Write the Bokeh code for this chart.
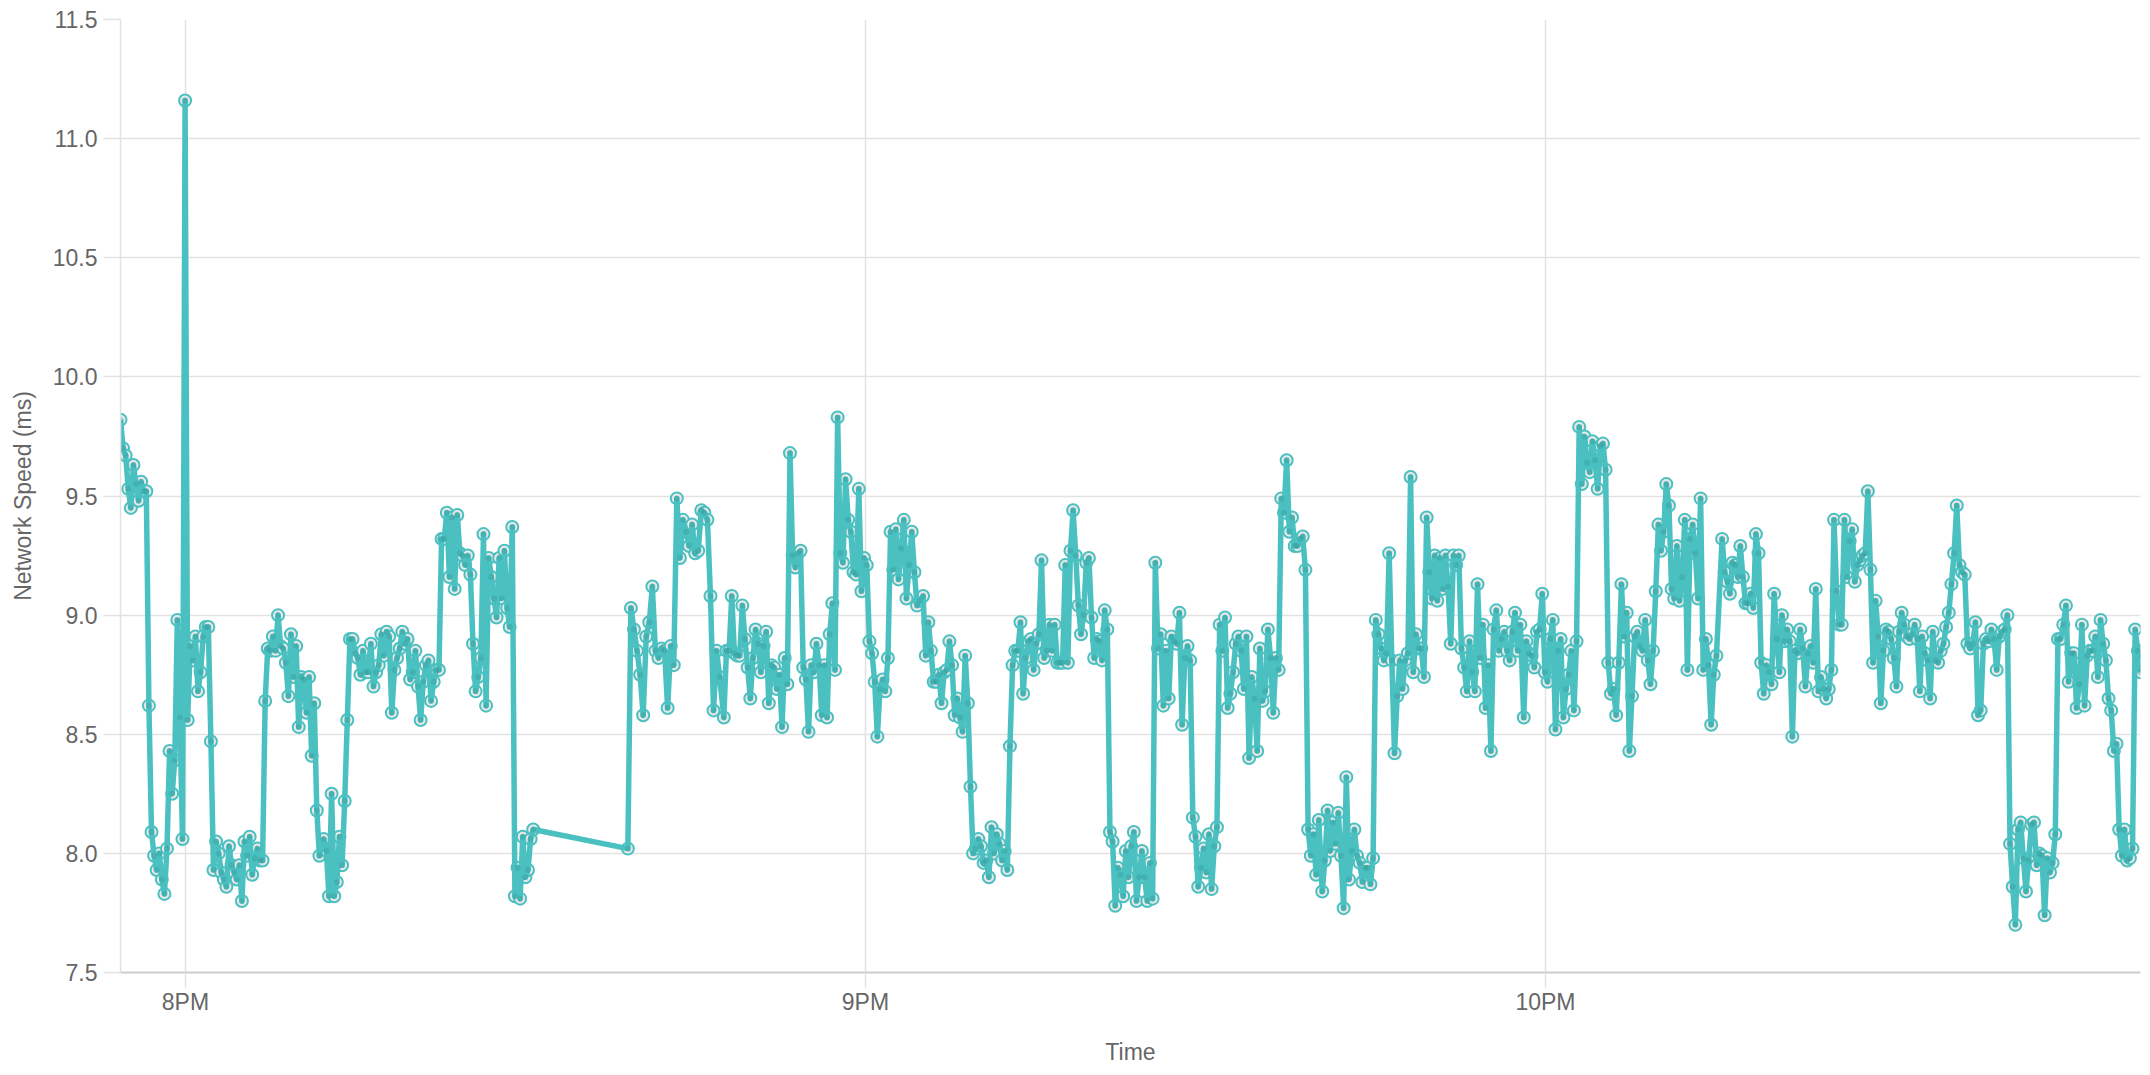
from bokeh.plotting import figure
from bokeh.models import ColumnDataSource, FixedTicker, PrintfTickFormatter, Range1d
from bokeh.embed import file_html
from bokeh.resources import INLINE
import numpy as np
import pandas as pd

DAY = "2024-03-01"

# ---- data: network speed readings (ms), grouped in consecutive stretches of time ----
seg_a_span = ("19:54:16", "20:11:49")
seg_a = [9.82, 9.70, 9.67, 9.53, 9.45, 9.63, 9.55, 9.48, 9.56, 9.52, 9.52, 8.62, 8.09, 7.99, 7.93, 8.00,
         7.89, 7.83, 8.02, 8.43, 8.25, 8.39, 8.98, 8.57, 8.06, 11.16, 8.56, 8.87, 8.81, 8.91, 8.68, 8.76,
         8.91, 8.95, 8.95, 8.47, 7.93, 8.05, 8.00, 7.92, 7.89, 7.86, 8.03, 7.95, 7.92, 7.89, 7.95, 7.80,
         8.05, 7.99, 8.07, 7.91, 7.98, 8.02, 7.97, 7.97, 8.64, 8.86, 8.85, 8.91, 8.85, 9.00, 8.87, 8.86,
         8.80, 8.66, 8.92, 8.74, 8.87, 8.53, 8.74, 8.73, 8.59, 8.74, 8.41, 8.63, 8.18, 7.99]

seg_b_span = ("20:12:12", "20:30:41")
seg_b = [8.06, 8.01, 7.82, 8.25, 7.82, 7.88, 8.07, 7.95, 8.22, 8.56, 8.90, 8.90, 8.84, 8.82, 8.75, 8.85,
         8.76, 8.76, 8.88, 8.70, 8.76, 8.79, 8.92, 8.83, 8.93, 8.91, 8.59, 8.77, 8.82, 8.86, 8.93, 8.88,
         8.90, 8.73, 8.76, 8.85, 8.70, 8.56, 8.72, 8.79, 8.81, 8.64, 8.72, 8.77, 8.77, 9.32, 9.32, 9.43,
         9.16, 9.41, 9.11, 9.42, 9.26, 9.25, 9.21, 9.25, 9.17, 8.88, 8.68, 8.74, 8.82, 9.34, 8.62, 9.24,
         9.16, 9.07, 8.99, 9.24, 9.07, 9.27, 9.03, 8.95, 9.37, 7.82, 7.94, 7.81, 8.07, 7.90, 7.93, 8.06,
         8.10]

seg_c_span = ("20:39:02", "20:47:08")
seg_c = [8.02, 9.03, 8.94, 8.85, 8.75, 8.58, 8.91, 8.97, 9.12, 8.85, 8.82, 8.86, 8.85, 8.61, 8.87, 8.79,
         9.49, 9.24, 9.40, 9.35, 9.29, 9.38, 9.26, 9.27, 9.44, 9.43, 9.40, 9.08, 8.60, 8.85, 8.74]

seg_d_span = ("20:47:30", "21:04:47")
seg_d = [8.57, 8.85, 8.85, 9.08, 8.84, 8.83, 8.83, 9.04, 8.90, 8.78, 8.65, 8.82, 8.94, 8.88, 8.76, 8.87,
         8.93, 8.63, 8.79, 8.78, 8.69, 8.75, 8.53, 8.82, 8.71, 9.68, 9.25, 9.20, 9.26, 9.27, 8.78, 8.73,
         8.51, 8.79, 8.76, 8.88, 8.79, 8.58, 8.79, 8.57, 8.92, 9.05, 8.77, 9.83, 9.26, 9.22, 9.57, 9.40,
         9.35, 9.18, 9.17, 9.53, 9.10, 9.24, 9.21, 8.89, 8.84, 8.72, 8.49, 8.69, 8.73, 8.68, 8.82, 9.35,
         9.19, 9.36, 9.15, 9.28, 9.40, 9.07, 9.21, 9.35, 9.18, 9.04, 9.06]

seg_e_span = ("21:05:05", "21:22:30")
seg_e = [9.08, 8.83, 8.97, 8.85, 8.72, 8.72, 8.75, 8.63, 8.76, 8.77, 8.89, 8.79, 8.58, 8.65, 8.57, 8.51,
         8.83, 8.63, 8.28, 8.00, 8.02, 8.06, 8.03, 7.96, 7.97, 7.90, 8.11, 8.00, 8.08, 8.04, 7.97, 8.01,
         7.93, 8.45, 8.79, 8.85, 8.85, 8.97, 8.67, 8.82, 8.89, 8.90, 8.77, 8.88, 8.92, 9.23, 8.82, 8.85,
         8.96, 8.85, 8.96, 8.80, 8.80, 8.80, 9.21, 8.80, 9.27, 9.44, 9.25, 9.04, 8.92, 9.00, 9.22, 9.24,
         8.99, 8.82, 8.90, 8.89, 8.81, 9.02, 8.94, 8.09, 8.05, 7.78, 7.94, 7.91]

seg_f_span = ("21:22:44", "21:40:00")
seg_f = [7.82, 8.01, 7.90, 8.03, 8.09, 7.80, 7.90, 8.01, 7.90, 7.80, 7.96, 7.81, 9.22, 8.86, 8.92, 8.62,
         8.85, 8.65, 8.91, 8.89, 8.88, 9.01, 8.54, 8.82, 8.87, 8.81, 8.15, 8.07, 7.86, 7.94, 8.02, 7.92,
         8.08, 7.85, 8.03, 8.11, 8.96, 8.85, 8.99, 8.61, 8.67, 8.76, 8.88, 8.91, 8.85, 8.69, 8.91, 8.40,
         8.74, 8.65, 8.43, 8.86, 8.64, 8.68, 8.94, 8.82, 8.59, 8.82, 8.77, 9.49, 9.43, 9.65, 9.35, 9.41,
         9.29, 9.29, 9.32, 9.33, 9.19, 8.10, 7.99, 8.08, 7.91, 8.14]

seg_g_span = ("21:40:18", "21:57:47")
seg_g = [7.84, 7.97, 8.18, 8.01, 8.13, 8.04, 8.17, 7.99, 7.77, 8.32, 7.89, 8.01, 8.10, 7.99, 7.96, 7.88,
         7.94, 7.94, 7.87, 7.98, 8.98, 8.92, 8.86, 8.81, 8.84, 9.26, 8.81, 8.42, 8.66, 8.81, 8.69, 8.81,
         8.84, 9.58, 8.76, 8.92, 8.86, 8.86, 8.74, 9.41, 9.18, 9.07, 9.25, 9.06, 9.24, 9.11, 9.25, 9.12,
         8.88, 9.25, 9.21, 9.25, 8.86, 8.78, 8.68, 8.89, 8.76, 8.68, 9.13, 8.82, 8.96, 8.61, 8.79, 8.43,
         8.94, 9.02, 8.85, 8.90, 8.93, 8.85, 8.81, 8.93, 9.01, 8.85, 8.96]

seg_h_span = ("21:58:05", "22:15:05")
seg_h = [8.57, 8.89, 8.84, 8.83, 8.78, 8.93, 8.94, 9.09, 8.76, 8.72, 8.90, 8.98, 8.52, 8.85, 8.90, 8.57,
         8.69, 8.75, 8.85, 8.60, 8.89, 9.79, 9.55, 9.75, 9.64, 9.60, 9.73, 9.65, 9.53, 9.71, 9.72, 9.61,
         8.80, 8.67, 8.69, 8.58, 8.80, 9.13, 8.91, 9.01, 8.43, 8.66, 8.91, 8.93, 8.87, 8.85, 8.98, 8.81,
         8.71, 8.85, 9.10, 9.38, 9.27, 9.35, 9.55, 9.46, 9.11, 9.07, 9.29, 9.06, 9.16, 9.40, 8.77, 9.32,
         9.38, 9.26, 9.07, 9.49, 8.77, 8.90, 8.79, 8.54, 8.75, 8.83]

seg_i_span = ("22:15:35", "22:33:02")
seg_i = [9.32, 9.18, 9.14, 9.09, 9.22, 9.21, 9.16, 9.29, 9.16, 9.05, 9.05, 9.09, 9.03, 9.34, 9.26, 8.80,
         8.67, 8.79, 8.76, 8.71, 9.09, 8.90, 8.76, 9.00, 8.89, 8.94, 8.89, 8.49, 8.85, 8.84, 8.94, 8.86,
         8.70, 8.84, 8.87, 8.80, 9.11, 8.68, 8.74, 8.69, 8.65, 8.69, 8.77, 9.40, 9.10, 8.96, 8.96, 9.40,
         9.16, 9.31, 9.36, 9.14, 9.21, 9.23, 9.25, 9.26, 9.52, 9.19, 8.80, 9.06, 8.91, 8.63, 8.85, 8.94,
         8.93, 8.90, 8.82, 8.70, 8.93, 9.01, 8.96, 8.91, 8.90, 8.92, 8.96, 8.90, 8.68]

seg_j_span = ("22:33:14", "22:52:30")
seg_j = [8.91, 8.84, 8.81, 8.65, 8.93, 8.81, 8.80, 8.85, 8.88, 8.95, 9.01, 9.13, 9.26, 9.46, 9.21, 9.18,
         9.17, 8.88, 8.86, 8.88, 8.97, 8.58, 8.60, 8.88, 8.90, 8.89, 8.94, 8.90, 8.77, 8.91, 8.93, 8.94,
         9.00, 8.04, 7.86, 7.70, 8.10, 8.13, 7.98, 7.84, 7.97, 8.12, 8.13, 7.95, 8.00, 7.99, 7.74, 7.98,
         7.92, 7.96, 8.08, 8.90, 8.90, 8.96, 9.04, 8.72, 8.84, 8.84, 8.61, 8.71, 8.96, 8.62, 8.83, 8.85,
         8.85, 8.91, 8.74, 8.98, 8.88, 8.81, 8.65, 8.60, 8.43, 8.46, 8.10, 7.99, 8.10, 7.97, 7.98, 8.02,
         8.94, 8.85, 8.76]

hour_ticks = ["20:00:00", "21:00:00", "22:00:00"]
hour_labels = ["8PM", "9PM", "10PM"]
y_ticks = [7.5, 8.0, 8.5, 9.0, 9.5, 10.0, 10.5, 11.0, 11.5]

segments = [(seg_a_span, seg_a), (seg_b_span, seg_b), (seg_c_span, seg_c), (seg_d_span, seg_d),
            (seg_e_span, seg_e), (seg_f_span, seg_f), (seg_g_span, seg_g), (seg_h_span, seg_h),
            (seg_i_span, seg_i), (seg_j_span, seg_j)]


def to_ms(hms):
    return (pd.Timestamp(f"{DAY} {hms}") - pd.Timestamp("1970-01-01")) / pd.Timedelta(milliseconds=1)


xs, ys = [], []
for (t0, t1), vals in segments:
    xs.extend(np.linspace(to_ms(t0), to_ms(t1), len(vals)).tolist())
    ys.extend(vals)

TEAL = "#4bc0c0"
GRID = "#e2e2e2"
TXT = "#666666"
FONT = "Liberation Sans"

p = figure(width=2150, height=1075, x_axis_type="datetime", output_backend="svg",
           toolbar_location=None,
           x_range=Range1d(xs[0], xs[-1]), y_range=Range1d(y_ticks[0], y_ticks[-1]),
           min_border_left=120, min_border_right=10, min_border_top=19, min_border_bottom=103,
           background_fill_color="white", border_fill_color="white")
p.outline_line_color = None

src = ColumnDataSource(dict(t=xs, v=ys))
p.scatter("t", "v", source=src, marker="circle", size=12, fill_color="#e8e8e8",
          line_color=TEAL, line_width=2)
p.line("t", "v", source=src, line_color=TEAL, line_width=5.5, line_join="round")
p.scatter("t", "v", source=src, marker="circle", size=6, fill_color="#2f8f8f", fill_alpha=0.3,
          line_color=None)

tick_ms = [to_ms(h) for h in hour_ticks]
p.xaxis.ticker = FixedTicker(ticks=tick_ms)
p.xaxis.major_label_overrides = {t: lab for t, lab in zip(tick_ms, hour_labels)}
p.yaxis.ticker = FixedTicker(ticks=y_ticks)
p.yaxis.formatter = PrintfTickFormatter(format="%.1f")

p.xaxis.axis_label = "Time"
p.yaxis.axis_label = "Network Speed (ms)"

for ax in (p.xaxis[0], p.yaxis[0]):
    ax.major_label_text_font = FONT
    ax.major_label_text_font_size = "23px"
    ax.major_label_text_color = TXT
    ax.axis_label_text_font = FONT
    ax.axis_label_text_font_size = "23px"
    ax.axis_label_text_font_style = "normal"
    ax.axis_label_text_color = TXT
    ax.major_tick_in = 0
    ax.major_tick_line_color = GRID
    ax.major_tick_line_width = 1.5
    ax.minor_tick_line_color = None

p.xaxis.major_tick_out = 15
p.yaxis.major_tick_out = 17
p.xaxis.axis_line_color = "#cccccc"
p.xaxis.axis_line_width = 2
p.yaxis.axis_line_color = GRID
p.yaxis.axis_line_width = 1.5
p.xaxis.major_label_standoff = 1
p.yaxis.major_label_standoff = 6
p.xaxis.axis_label_standoff = 21
p.yaxis.axis_label_standoff = 14

p.grid.grid_line_color = GRID
p.grid.grid_line_width = 1.5

open("out.html", "w").write(file_html(p, INLINE))
